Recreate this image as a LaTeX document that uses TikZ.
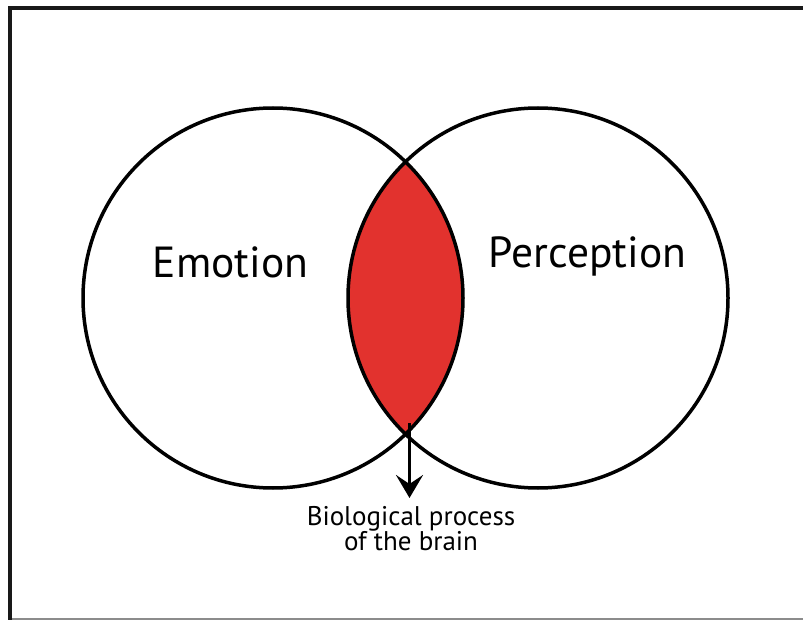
\documentclass[tikz,border=0pt]{standalone}
\usepackage{fontspec}
\setmainfont{PT Sans}
\usetikzlibrary{arrows.meta}
\definecolor{lensred}{RGB}{226,50,46}
\begin{document}
\begin{tikzpicture}
[x=1pt, y=-1pt, font=\rmfamily]
\tikzstyle{set}=[circle, draw, line width=3.5pt, minimum size=380pt, inner sep=0pt]
\tikzstyle{big}=[font=\fontsize{43.5}{43.5}\selectfont]
\tikzstyle{small}=[font=\fontsize{27}{25}\selectfont, align=center, inner sep=0pt]
\useasboundingbox (0,0) rectangle (803,620);

% frame
\draw[line width=4pt, black!90] (803,8) -- (10,8) -- (10,620);
\draw[line width=1.5pt, black!45] (12,619.2) -- (803,619.2);

\coordinate (cE) at (273,298);
\coordinate (cP) at (538,298);

% shared part
\begin{scope}
\clip (cE) circle (190pt);
\fill[lensred] (cP) circle (190pt);
\end{scope}

\node[set]	(emotion)	at (cE) {};
\node[set]	(perception)	at (cP) {};

\node[big, anchor=base]	(emo)	at (230.5,278) {Emotion};
\node[big, anchor=base]	(per)	at (587.5,268) {Perception};

\node[small, anchor=north]	(brain)	at (411,506) {Biological process\\of the brain};
\coordinate (tail) at (409.5,423);
\draw[line width=3.5pt, -{Stealth[length=23pt, width=27pt, inset=9pt]}] (tail) -- (409.5,498);
\end{tikzpicture}
\end{document}
